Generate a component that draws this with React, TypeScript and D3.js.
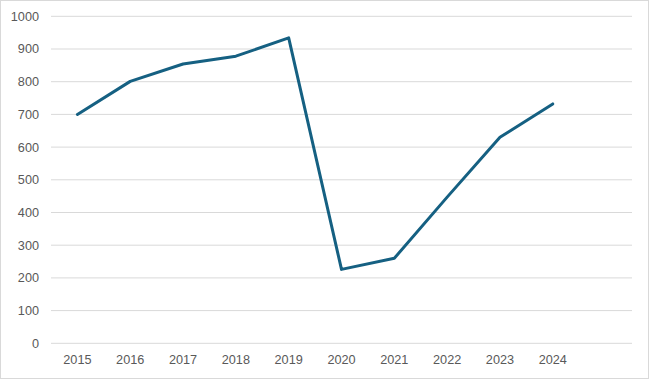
import React from "react";
import * as d3 from "d3";

const years = ["2015", "2016", "2017", "2018", "2019", "2020", "2021", "2022", "2023", "2024"];
const values = [700, 801, 854, 878, 934, 226, 260, 447, 630, 732];
const yTicks = [0, 100, 200, 300, 400, 500, 600, 700, 800, 900, 1000];

const W = 649;
const H = 379;
const left = 51;
const right = 632;
const top = 16.3;
const bottom = 343.3;

export default function App() {
  const x = d3
    .scaleBand<string>()
    .domain([...years, ""])
    .range([left, right])
    .paddingInner(0)
    .paddingOuter(0);
  const y = d3.scaleLinear().domain([0, 1000]).range([bottom, top]);
  const line = d3
    .line<number>()
    .x((_, i) => (x(years[i]) as number) + x.bandwidth() / 2)
    .y((d) => y(d));

  return (
    <svg
      width={W}
      height={H}
      style={{ position: "absolute", left: 0, top: 0, fontFamily: "Liberation Sans, Arial, sans-serif" }}
    >
      <rect x={0.5} y={0.5} width={W - 1} height={H - 1} fill="#ffffff" stroke="#d9d9d9" />
      {yTicks.map((t) => (
        <g key={t}>
          <line x1={left} x2={right} y1={y(t)} y2={y(t)} stroke="#d9d9d9" strokeWidth={1} />
          <text x={39} y={y(t)} dy="0.35em" textAnchor="end" fontSize={12.7} fill="#595959">
            {t}
          </text>
        </g>
      ))}
      {years.map((yr) => (
        <text
          key={yr}
          x={(x(yr) as number) + x.bandwidth() / 2}
          y={360}
          dy="0.35em"
          textAnchor="middle"
          fontSize={12.7}
          fill="#595959"
        >
          {yr}
        </text>
      ))}
      <path d={line(values) || ""} fill="none" stroke="#156082" strokeWidth={3} strokeLinejoin="round" strokeLinecap="round" />
    </svg>
  );
}
